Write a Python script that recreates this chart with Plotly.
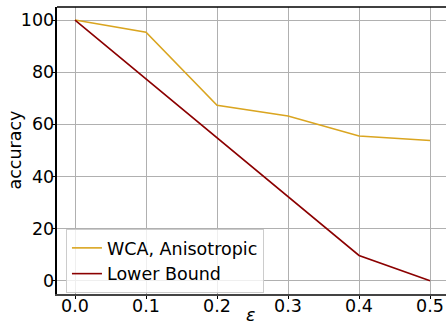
import plotly.graph_objects as go

eps = [0.0, 0.1, 0.2, 0.3, 0.4, 0.5]
wca_aniso = [100, 95.3, 67.3, 63.2, 55.5, 53.8]
lower_bound = [100, 77.5, 54.8, 32.2, 9.7, 0.0]
x_ticks = [0.0, 0.1, 0.2, 0.3, 0.4, 0.5]
x_ticklabels = ["0.0", "0.1", "0.2", "0.3", "0.4", "0.5"]
y_ticks = [0, 20, 40, 60, 80, 100]

FONT = "DejaVu Sans"
FS = 17.5
fig = go.Figure()
fig.add_trace(go.Scatter(x=eps, y=wca_aniso, mode="lines", name="WCA, Anisotropic",
                         line=dict(color="#DAA520", width=1.6)))
fig.add_trace(go.Scatter(x=eps, y=lower_bound, mode="lines", name="Lower Bound",
                         line=dict(color="#8B0000", width=1.6)))

fig.update_layout(
    width=446, height=326,
    margin=dict(l=57, r=0, t=7, b=32, autoexpand=False),
    paper_bgcolor="white", plot_bgcolor="white",
    font=dict(family=FONT, size=FS, color="black"),
    showlegend=True,
    legend=dict(x=0.023, y=(294 - 229) / 287, xanchor="left", yanchor="top",
                bgcolor="rgba(255,255,255,0.8)", bordercolor="#cccccc", borderwidth=1,
                font=dict(family=FONT, size=FS, color="black"),
                tracegroupgap=0),
    xaxis=dict(range=[-0.0254, 0.5225], tickvals=x_ticks, ticktext=x_ticklabels,
               automargin=False, ticklabelstandoff=-8,
               showgrid=True, gridcolor="#b0b0b0", gridwidth=1,
               showline=True, linecolor="#444444", linewidth=1.5,
               ticks="outside", ticklen=3.5, tickcolor="black", zeroline=False),
    yaxis=dict(range=[-5.1, 105], tickvals=y_ticks, automargin=False,
               ticklabelstandoff=-6,
               showgrid=True, gridcolor="#b0b0b0", gridwidth=1,
               showline=True, linecolor="black", linewidth=1.5,
               ticks="outside", ticklen=3.5, tickcolor="black", zeroline=False),
    shapes=[dict(type="line", xref="paper", yref="paper", x0=0, x1=1, y0=1, y1=1,
                 line=dict(color="black", width=1.5))],
    annotations=[
        dict(text="<i>ε</i>", xref="paper", yref="paper", x=(250 - 57) / 389,
             y=-(326 - 294) / 287, xanchor="center", yanchor="bottom",
             showarrow=False, font=dict(family=FONT, size=FS), borderpad=0),
        dict(text="accuracy", xref="paper", yref="paper", x=-(57 - 14) / 389,
             y=0.5, xanchor="center", yanchor="middle", textangle=-90,
             showarrow=False, font=dict(family=FONT, size=FS)),
    ],
)

fig.write_html("out.html")
